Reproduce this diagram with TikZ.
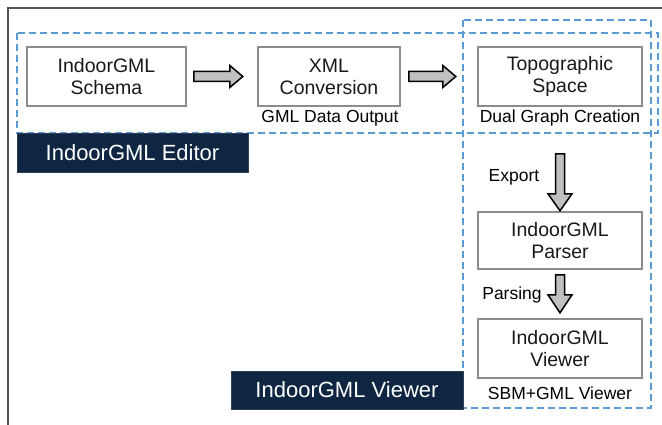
\documentclass[tikz,border=0pt]{standalone}
\usepackage{fontspec}
\setmainfont{Liberation Sans}
\definecolor{dashblue}{HTML}{5B9BD5}
\definecolor{navy}{HTML}{0E2641}
\definecolor{boxgrey}{HTML}{8C8C8C}
\definecolor{arrowfill}{HTML}{C0C0C0}
\definecolor{framegrey}{HTML}{555555}
\begin{document}
\begin{tikzpicture}[x=1pt,y=-1pt,
  procbox/.style={draw=boxgrey, line width=1.6pt, fill=white, align=center, inner sep=0pt,
    font=\fontsize{19.5}{22}\selectfont, text=black!90},
  grouplabel/.style={font=\fontsize{17.5}{20}\selectfont, text=black, inner sep=0pt},
  groupbox/.style={draw=dashblue, line width=1.5pt, dash pattern=on 7pt off 4pt},
  titlebox/.style={fill=navy, draw=navy!70!gray, line width=0.6pt, text=white, inner sep=0pt,
    font=\fontsize{22}{25}\selectfont},
  fatarrow/.style={draw=black, line width=1.5pt, fill=arrowfill, line join=miter},
  sidelabel/.style={font=\fontsize{17.5}{20}\selectfont, text=black, inner sep=0pt}]
\useasboundingbox (0,0) rectangle (662,425);
% outer frame (left and top only)
\draw[framegrey, line width=1.6pt] (8,425) -- (8,8) -- (662,8);
% group boxes
\draw[groupbox] (17,33) rectangle (658,133);
\draw[groupbox] (463,20) rectangle (651,408);
% title boxes
\node[titlebox, minimum width=231pt, minimum height=39pt] (edtitle) at (132.5,152.5) {IndoorGML Editor};
\node[titlebox, minimum width=232pt, minimum height=38pt] (vwtitle) at (347,390) {IndoorGML Viewer};
% process boxes
\node[procbox, minimum width=159pt, minimum height=59pt] (schema) at (106.5,76.5) {IndoorGML\\Schema};
\node[procbox, minimum width=142pt, minimum height=59pt] (xml) at (329,76.5) {XML\\Conversion};
\node[procbox, minimum width=164pt, minimum height=59pt] (topo) at (560,76.5) {Topographic\\Space};
\node[procbox, minimum width=164pt, minimum height=57pt] (parser) at (560,240.5) {IndoorGML\\Parser};
\node[procbox, minimum width=164pt, minimum height=59pt] (viewer) at (560,348.5) {IndoorGML\\Viewer};
% captions
\node[grouplabel] (gmlout) at (330,118) {GML Data Output};
\node[grouplabel] (dual) at (560,118) {Dual Graph Creation};
\node[grouplabel] (sbm) at (560,393) {SBM+GML Viewer};
\node[sidelabel] (export) at (514,177) {Export};
\node[sidelabel] (parsing) at (512,295) {Parsing};
% block arrows
\draw[fatarrow] ([xshift=7pt]schema.east) ++(0,-5) -- ++(36,0) -- ++(0,-6) -- ++(13,11) -- ++(-13,11) -- ++(0,-6) -- ++(-36,0) -- cycle;
\draw[fatarrow] ([xshift=8pt]xml.east) ++(0,-5) -- ++(34,0) -- ++(0,-6) -- ++(13,11) -- ++(-13,11) -- ++(0,-6) -- ++(-34,0) -- cycle;
\draw[fatarrow] ([yshift=-47pt]topo.south) ++(-4.5,0) -- ++(0,40) -- ++(-7.5,0) -- ++(12,17) -- ++(12,-17) -- ++(-7.5,0) -- ++(0,-40) -- cycle;
\draw[fatarrow] ([yshift=-5pt]parser.south) ++(-4.5,0) -- ++(0,20) -- ++(-7.5,0) -- ++(12,18) -- ++(12,-18) -- ++(-7.5,0) -- ++(0,-20) -- cycle;
\end{tikzpicture}
\end{document}
